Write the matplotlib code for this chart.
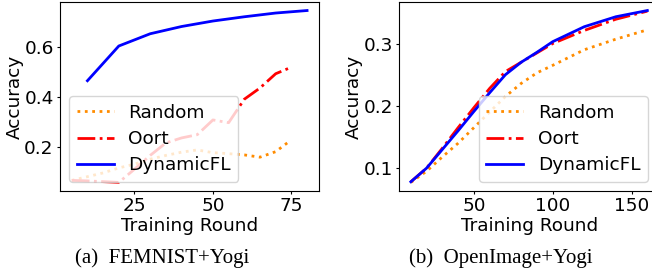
import matplotlib
matplotlib.use('Agg')
import matplotlib.pyplot as plt

# FEMNIST+Yogi
femnist_rounds = [5, 10, 15, 20, 25, 30, 35, 40, 45, 50, 55, 60, 65, 70, 74]
femnist_random = [0.065, 0.08, 0.095, 0.115, 0.13, 0.15, 0.165, 0.178, 0.187, 0.176,
                  0.172, 0.167, 0.158, 0.18, 0.218]
femnist_oort = [0.065, 0.063, 0.06, 0.057, 0.11, 0.165, 0.215, 0.235, 0.248, 0.307,
                0.296, 0.39, 0.435, 0.492, 0.513]
femnist_dyn_rounds = [10, 20, 30, 40, 50, 60, 70, 80]
femnist_dyn = [0.464, 0.603, 0.652, 0.681, 0.703, 0.72, 0.735, 0.745]

# OpenImage+Yogi
openimg_rounds = [10, 20, 30, 40, 50, 60, 70, 80, 90, 100, 120, 140, 160]
openimg_random = [0.077, 0.095, 0.118, 0.14, 0.165, 0.19, 0.215, 0.236, 0.253, 0.265,
                  0.29, 0.307, 0.322]
openimg_oort = [0.078, 0.1, 0.132, 0.165, 0.197, 0.228, 0.255, 0.27, 0.285, 0.3,
                0.321, 0.339, 0.352]
openimg_dyn = [0.078, 0.1, 0.13, 0.16, 0.191, 0.221, 0.25, 0.27, 0.286, 0.303,
               0.327, 0.343, 0.353]

labels = ['Random', 'Oort', 'DynamicFL']
colors = ['darkorange', 'red', 'blue']
styles = [':', '-.', '-']

FS = 13.3

fig = plt.figure(figsize=(6.52, 2.76), dpi=100)
ax1 = fig.add_axes([0.092, 0.308, 0.397, 0.685])
ax2 = fig.add_axes([0.612, 0.308, 0.399, 0.685])

ax1.plot(femnist_rounds, femnist_random, linestyle=styles[0], color=colors[0], lw=2, label=labels[0])
ax1.plot(femnist_rounds, femnist_oort, linestyle=styles[1], color=colors[1], lw=2, label=labels[1])
ax1.plot(femnist_dyn_rounds, femnist_dyn, linestyle=styles[2], color=colors[2], lw=2, label=labels[2])

ax2.plot(openimg_rounds, openimg_random, linestyle=styles[0], color=colors[0], lw=2, label=labels[0])
ax2.plot(openimg_rounds, openimg_oort, linestyle=styles[1], color=colors[1], lw=2, label=labels[1])
ax2.plot(openimg_rounds, openimg_dyn, linestyle=styles[2], color=colors[2], lw=2, label=labels[2])

ax1.set_xticks([25, 50, 75])
ax1.set_yticks([0.2, 0.4, 0.6])
ax2.set_xticks([50, 100, 150])
ax2.set_yticks([0.1, 0.2, 0.3])

for ax in (ax1, ax2):
    ax.set_xlabel('Training Round', fontsize=FS, labelpad=1)
    ax.set_ylabel('Accuracy', fontsize=FS, labelpad=0)
    ax.tick_params(labelsize=FS, length=2.5, pad=2)

ax1.legend(loc='lower left', fontsize=FS, bbox_to_anchor=(0.0, 0.0),
           borderaxespad=0.5, handletextpad=0.8, labelspacing=0.45)
ax2.legend(loc='lower right', fontsize=FS, bbox_to_anchor=(0.992, 0.0),
           borderaxespad=0.5, handletextpad=0.8, labelspacing=0.45)

fig.text(0.248, 0.065, '(a)  FEMNIST+Yogi', ha='center', va='center',
         family='Liberation Serif', fontsize=15)
fig.text(0.768, 0.065, '(b)  OpenImage+Yogi', ha='center', va='center',
         family='Liberation Serif', fontsize=15)

fig.savefig('out.png', dpi=100)
